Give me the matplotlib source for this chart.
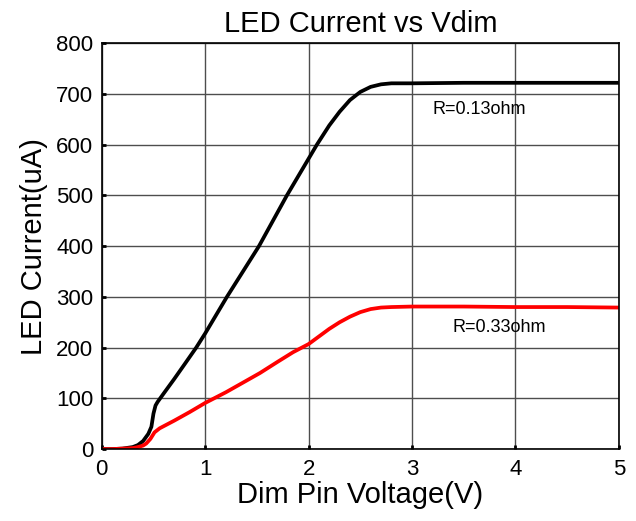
import matplotlib
matplotlib.use('Agg')
import matplotlib.pyplot as plt

plt.rcParams['font.family'] = ['Liberation Sans', 'DejaVu Sans']

# Data
black_v = [0, 0.1, 0.2, 0.3, 0.35, 0.4, 0.45, 0.48, 0.5, 0.52, 0.54, 0.6, 0.7, 0.8,
           0.913, 1.0, 1.21, 1.52, 1.79, 2.08, 2.2, 2.3, 2.4, 2.5, 2.6, 2.7, 2.8,
           3.0, 3.5, 4.0, 4.5, 5.0]
black_i = [0, 0, 1, 4, 8, 16, 30, 44, 70, 86, 93, 110, 138, 167,
           200, 228, 300, 400, 500, 600, 638, 665, 688, 704, 714, 719, 721,
           721, 722, 722, 722, 722]

red_v = [0, 0.1, 0.2, 0.3, 0.35, 0.4, 0.43, 0.47, 0.51, 0.56, 0.7, 0.85, 1.0, 1.2,
         1.4, 1.53, 1.7, 1.85, 2.0, 2.1, 2.2, 2.3, 2.4, 2.5, 2.6, 2.7, 2.8,
         3.0, 3.5, 4.0, 4.5, 5.0]
red_i = [0, 0, 1, 2, 4, 7, 11, 20, 33, 41, 56, 73, 91, 112,
         135, 150, 172, 191, 207, 222, 237, 250, 261, 270, 276, 279, 280,
         281, 281, 280, 280, 279]

x_ticks = [0, 1, 2, 3, 4, 5]
y_ticks = [0, 100, 200, 300, 400, 500, 600, 700, 800]

fig = plt.figure(figsize=(6.36, 5.21), dpi=100)
ax = fig.add_axes([0.16, 0.138, 0.813, 0.779])

ax.plot(black_v, black_i, color='black', lw=2.7, solid_capstyle='butt')
ax.plot(red_v, red_i, color='#ff0000', lw=2.7, solid_capstyle='butt')

ax.text(3.65, 670, 'R=0.13ohm', fontsize=13, ha='center', va='center')
ax.text(3.84, 239, 'R=0.33ohm', fontsize=13, ha='center', va='center')

ax.set_xlim(0, 5)
ax.set_ylim(0, 800)
ax.set_xticks(x_ticks)
ax.set_yticks(y_ticks)
ax.grid(True, color='0.3', lw=1)
ax.tick_params(direction='in', length=3, width=2, labelsize=16)
ax.tick_params(axis='x', pad=7)
ax.tick_params(axis='y', pad=6)
for s in ax.spines.values():
    s.set_linewidth(1.2)

ax.set_title('LED Current vs Vdim', fontsize=21, pad=8)
ax.set_xlabel('Dim Pin Voltage(V)', fontsize=21, labelpad=1)
ax.set_ylabel('LED Current(uA)', fontsize=21, labelpad=6)

fig.savefig('out.png', dpi=100)
